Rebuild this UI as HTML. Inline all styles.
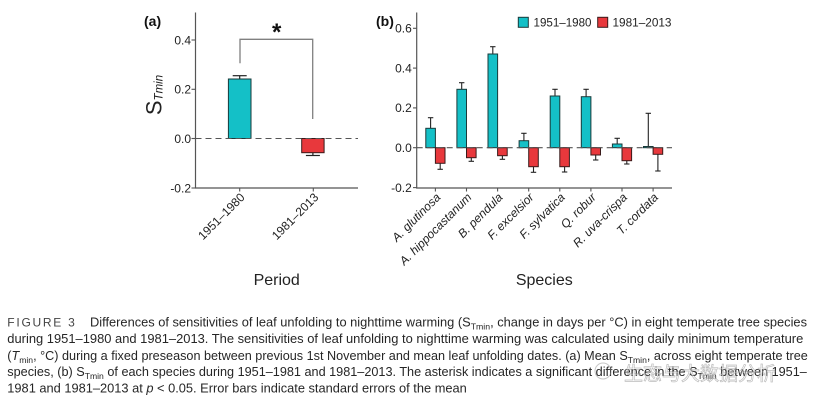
<!DOCTYPE html>
<html><head><meta charset="utf-8">
<style>
html,body{margin:0;padding:0;background:#fff;}
svg{display:block;}
text{font-family:"Liberation Sans","Noto Sans CJK SC",sans-serif;}
</style></head>
<body>
<svg width="827" height="405" viewBox="0 0 827 405" xmlns="http://www.w3.org/2000/svg">
<rect width="827" height="405" fill="#fff"/>

<!-- ============ Panel (a) ============ -->
<text x="144" y="26" font-size="14" font-weight="bold" fill="#111">(a)</text>
<text transform="translate(161.5,95) rotate(-90)" text-anchor="middle" fill="#222"><tspan font-size="22">S</tspan><tspan font-size="11.5" font-style="italic" dy="1">Tmin</tspan></text>
<line x1="195.5" y1="12.5" x2="195.5" y2="188.5" stroke="#555" stroke-width="1.2"/>
<line x1="195" y1="188" x2="358" y2="188" stroke="#555" stroke-width="1.2"/>
<g stroke="#555" stroke-width="1.1">
<line x1="191.5" y1="40" x2="195.5" y2="40"/>
<line x1="191.5" y1="89.3" x2="195.5" y2="89.3"/>
<line x1="191.5" y1="138.5" x2="195.5" y2="138.5"/>
<line x1="191.5" y1="188" x2="195.5" y2="188"/>
<line x1="239.7" y1="188" x2="239.7" y2="191.5"/>
<line x1="313.3" y1="188" x2="313.3" y2="191.5"/>
</g>
<g font-size="12" fill="#222" text-anchor="end">
<text x="191" y="44.3">0.4</text>
<text x="191" y="93.6">0.2</text>
<text x="191" y="142.8">0.0</text>
<text x="191" y="192.3">-0.2</text>
</g>
<line x1="239.7" y1="79" x2="239.7" y2="75.7" stroke="#222" stroke-width="1.2"/>
<line x1="232.7" y1="75.7" x2="246.7" y2="75.7" stroke="#222" stroke-width="1.2"/>
<rect x="228.4" y="79" width="22.6" height="59.5" fill="#14C0C7" stroke="#1a3a3a" stroke-width="1"/>
<line x1="312.9" y1="152.7" x2="312.9" y2="155.5" stroke="#222" stroke-width="1.2"/>
<line x1="305.9" y1="155.5" x2="319.9" y2="155.5" stroke="#222" stroke-width="1.2"/>
<rect x="301.7" y="138.5" width="22.4" height="14.2" fill="#E8383C" stroke="#3a1a1a" stroke-width="1"/>
<line x1="195.5" y1="138.5" x2="358" y2="138.5" stroke="#555" stroke-width="1.1" stroke-dasharray="6,4"/>
<polyline points="240,63.3 240,39.3 312.7,39.3 312.7,119" fill="none" stroke="#808080" stroke-width="1.3"/>
<text x="276.7" y="40" font-size="24" font-weight="bold" text-anchor="middle" fill="#111">*</text>
<g font-size="12" fill="#222" text-anchor="end">
<text transform="translate(245.5,198) rotate(-45)">1951–1980</text>
<text transform="translate(319.2,198) rotate(-45)">1981–2013</text>
</g>
<text x="276.7" y="285" font-size="16" text-anchor="middle" fill="#222">Period</text>

<!-- ============ Panel (b) ============ -->
<text x="376" y="26" font-size="14" font-weight="bold" fill="#111">(b)</text>
<line x1="416.7" y1="12.5" x2="416.7" y2="188.5" stroke="#555" stroke-width="1.2"/>
<line x1="416.2" y1="188" x2="672" y2="188" stroke="#555" stroke-width="1.2"/>
<g stroke="#555" stroke-width="1.1">
<line x1="413" y1="28.3" x2="416.7" y2="28.3"/>
<line x1="413" y1="68.1" x2="416.7" y2="68.1"/>
<line x1="413" y1="107.9" x2="416.7" y2="107.9"/>
<line x1="413" y1="147.7" x2="416.7" y2="147.7"/>
<line x1="413" y1="187.6" x2="416.7" y2="187.6"/>
<line x1="435.4" y1="188" x2="435.4" y2="191.5"/>
<line x1="466.5" y1="188" x2="466.5" y2="191.5"/>
<line x1="497.6" y1="188" x2="497.6" y2="191.5"/>
<line x1="528.7" y1="188" x2="528.7" y2="191.5"/>
<line x1="559.8" y1="188" x2="559.8" y2="191.5"/>
<line x1="590.9" y1="188" x2="590.9" y2="191.5"/>
<line x1="622.0" y1="188" x2="622.0" y2="191.5"/>
<line x1="653.1" y1="188" x2="653.1" y2="191.5"/>
</g>
<g font-size="12" fill="#222" text-anchor="end">
<text x="411.8" y="32.6">0.6</text>
<text x="411.8" y="72.4">0.4</text>
<text x="411.8" y="112.2">0.2</text>
<text x="411.8" y="152">0.0</text>
<text x="411.8" y="191.9">-0.2</text>
</g>

<g stroke="#222" stroke-width="1.1">
<line x1="430.6" y1="128.3" x2="430.6" y2="117.7"/><line x1="427.9" y1="117.7" x2="433.3" y2="117.7"/>
<line x1="440.2" y1="163.3" x2="440.2" y2="169.3"/><line x1="437.5" y1="169.3" x2="442.9" y2="169.3"/>
<line x1="461.7" y1="89.3" x2="461.7" y2="82.7"/><line x1="459" y1="82.7" x2="464.4" y2="82.7"/>
<line x1="471.3" y1="157.7" x2="471.3" y2="161.3"/><line x1="468.6" y1="161.3" x2="474" y2="161.3"/>
<line x1="492.8" y1="54" x2="492.8" y2="46.7"/><line x1="490.1" y1="46.7" x2="495.5" y2="46.7"/>
<line x1="502.4" y1="155.7" x2="502.4" y2="159.3"/><line x1="499.7" y1="159.3" x2="505.1" y2="159.3"/>
<line x1="523.9" y1="140.7" x2="523.9" y2="133.3"/><line x1="521.2" y1="133.3" x2="526.6" y2="133.3"/>
<line x1="533.5" y1="166.7" x2="533.5" y2="172.3"/><line x1="530.8" y1="172.3" x2="536.2" y2="172.3"/>
<line x1="555" y1="96" x2="555" y2="89.3"/><line x1="552.3" y1="89.3" x2="557.7" y2="89.3"/>
<line x1="564.6" y1="166.7" x2="564.6" y2="172"/><line x1="561.9" y1="172" x2="567.3" y2="172"/>
<line x1="586.1" y1="96.7" x2="586.1" y2="89.3"/><line x1="583.4" y1="89.3" x2="588.8" y2="89.3"/>
<line x1="595.7" y1="155" x2="595.7" y2="160"/><line x1="593" y1="160" x2="598.4" y2="160"/>
<line x1="617.2" y1="144" x2="617.2" y2="138.3"/><line x1="614.5" y1="138.3" x2="619.9" y2="138.3"/>
<line x1="626.8" y1="160.7" x2="626.8" y2="164"/><line x1="624.1" y1="164" x2="629.5" y2="164"/>
<line x1="648.3" y1="146.7" x2="648.3" y2="113.3"/><line x1="645.6" y1="113.3" x2="651" y2="113.3"/>
<line x1="657.9" y1="154.3" x2="657.9" y2="171"/><line x1="655.2" y1="171" x2="660.6" y2="171"/>
</g>

<g fill="#14C0C7" stroke="#1a3a3a" stroke-width="1">
<rect x="425.8" y="128.3" width="9.6" height="19.4"/>
<rect x="456.9" y="89.3" width="9.6" height="58.4"/>
<rect x="488" y="54" width="9.6" height="93.7"/>
<rect x="519.1" y="140.7" width="9.6" height="7"/>
<rect x="550.2" y="96" width="9.6" height="51.7"/>
<rect x="581.3" y="96.7" width="9.6" height="51"/>
<rect x="612.4" y="144" width="9.6" height="3.7"/>
<rect x="643.5" y="146.5" width="9.6" height="1.2"/>
</g>
<g fill="#E8383C" stroke="#3a1a1a" stroke-width="1">
<rect x="435.4" y="147.7" width="9.6" height="15.6"/>
<rect x="466.5" y="147.7" width="9.6" height="10"/>
<rect x="497.6" y="147.7" width="9.6" height="8"/>
<rect x="528.7" y="147.7" width="9.6" height="19"/>
<rect x="559.8" y="147.7" width="9.6" height="19"/>
<rect x="590.9" y="147.7" width="9.6" height="7.3"/>
<rect x="622" y="147.7" width="9.6" height="13"/>
<rect x="653.1" y="147.7" width="9.6" height="6.6"/>
</g>
<line x1="416.7" y1="147.7" x2="672" y2="147.7" stroke="#555" stroke-width="1.1" stroke-dasharray="6,4"/>

<rect x="518.3" y="17.3" width="10" height="10" fill="#14C0C7" stroke="#1a3a3a" stroke-width="1"/>
<text x="533.5" y="26.6" font-size="12" fill="#222" textLength="58" lengthAdjust="spacingAndGlyphs">1951–1980</text>
<rect x="597.7" y="17.3" width="10" height="10" fill="#E8383C" stroke="#3a1a1a" stroke-width="1"/>
<text x="612.5" y="26.6" font-size="12" fill="#222" textLength="59" lengthAdjust="spacingAndGlyphs">1981–2013</text>

<g font-size="12" font-style="italic" fill="#222" text-anchor="end">
<text transform="translate(441.2,198) rotate(-45)">A. glutinosa</text>
<text transform="translate(472.3,198) rotate(-45)">A. hippocastanum</text>
<text transform="translate(503.4,198) rotate(-45)">B. pendula</text>
<text transform="translate(534.5,198) rotate(-45)">F. excelsior</text>
<text transform="translate(565.6,198) rotate(-45)">F. sylvatica</text>
<text transform="translate(596.7,198) rotate(-45)">Q. robur</text>
<text transform="translate(627.8,198) rotate(-45)">R. uva-crispa</text>
<text transform="translate(658.9,198) rotate(-45)">T. cordata</text>
</g>
<text x="544.3" y="285" font-size="16" text-anchor="middle" fill="#222">Species</text>

<!-- ============ Caption ============ -->
<g font-size="12.5" fill="#262626">
<text x="7.3" y="326.7" font-size="12" fill="#444" textLength="69.5" lengthAdjust="spacing" letter-spacing="2">FIGURE 3</text>
<text x="90" y="326.7" textLength="717" lengthAdjust="spacingAndGlyphs">Differences of sensitivities of leaf unfolding to nighttime warming (S<tspan font-size="8.5" dy="3">Tmin</tspan><tspan dy="-3">, change in days per °C) in eight temperate tree species</tspan></text>
<text x="7.3" y="343.2" textLength="796" lengthAdjust="spacingAndGlyphs">during 1951–1980 and 1981–2013. The sensitivities of leaf unfolding to nighttime warming was calculated using daily minimum temperature</text>
<text x="7.3" y="359.8" textLength="800.5" lengthAdjust="spacingAndGlyphs">(<tspan font-style="italic">T</tspan><tspan font-size="8.5" dy="3">min</tspan><tspan dy="-3">, °C) during a fixed preseason between previous 1st November and mean leaf unfolding dates. (a) Mean S</tspan><tspan font-size="8.5" dy="3">Tmin</tspan><tspan dy="-3">, across eight temperate tree</tspan></text>
<text x="7.3" y="376.2" textLength="799.5" lengthAdjust="spacingAndGlyphs">species, (b) S<tspan font-size="8.5" dy="3">Tmin</tspan><tspan dy="-3"> of each species during 1951–1981 and 1981–2013. The asterisk indicates a significant difference in the S</tspan><tspan font-size="8.5" dy="3">Tmin</tspan><tspan dy="-3"> between 1951–</tspan></text>
<text x="7.3" y="392.6" textLength="459.5" lengthAdjust="spacingAndGlyphs">1981 and 1981–2013 at <tspan font-style="italic">p</tspan> &lt; 0.05. Error bars indicate standard errors of the mean</text>
</g>

<g opacity="0.55">
<circle cx="603" cy="371" r="8" fill="none" stroke="#999" stroke-width="1"/>
<text x="700" y="380" font-size="19" text-anchor="middle" fill="#fff" stroke="#888" stroke-width="0.7" font-family="'Noto Sans CJK SC',sans-serif">生态与大数据分析</text>
</g>
</svg>
</body></html>
